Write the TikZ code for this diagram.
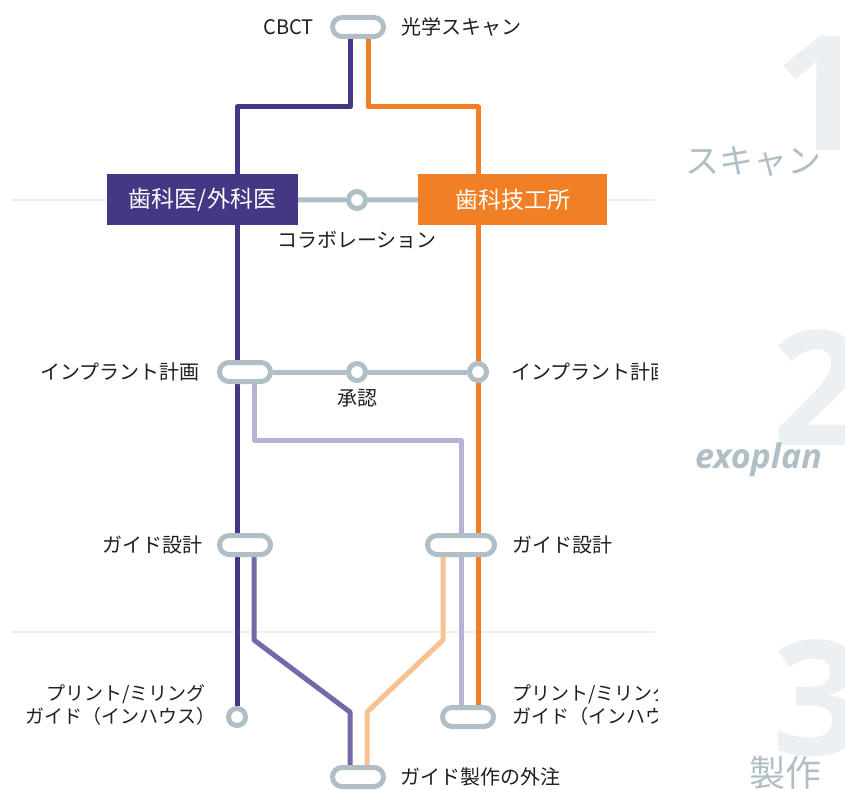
\documentclass[tikz,border=0pt]{standalone}
\usepackage{fontspec}
\newfontfamily\jpfont{Noto Sans CJK JP}
\newfontfamily\numfont{Open Sans}
\usetikzlibrary{positioning,backgrounds}
\definecolor{dentpurple}{HTML}{463784}
\definecolor{laborange}{HTML}{F07F26}
\definecolor{lilac}{HTML}{B9B1D6}
\definecolor{midpurple}{HTML}{7667A9}
\definecolor{peach}{HTML}{F8C18F}
\definecolor{stationgray}{HTML}{B0BEC5}
\definecolor{faintgray}{HTML}{EDF0F2}
\definecolor{biggray}{HTML}{EDF0F2}
\tikzset{
    pill/.style = {draw=stationgray, line width=5pt, fill=white, rounded corners=9.5pt,
        minimum width=51pt, minimum height=19pt, inner sep=0pt},
    halt/.style = {circle, draw=stationgray, line width=5pt, fill=white,
        minimum size=17pt, inner sep=0pt},
    site/.style = {rectangle, minimum width=191pt, minimum height=51pt, inner sep=0pt,
        text=white, font=\jpfont\fontsize{23}{27}\selectfont},
    lbl/.style = {inner sep=0pt, text=black!88, font=\jpfont\fontsize{20}{23}\selectfont},
    lbltwo/.style = {lbl, font=\jpfont\fontsize{19}{23}\selectfont},
    bignum/.style = {inner sep=0pt, text=biggray, font=\numfont\bfseries\fontsize{160}{160}\selectfont},
    stage/.style = {inner sep=0pt, text=stationgray, font=\jpfont\fontsize{34}{38}\selectfont},
    track/.style = {line width=5pt, line join=round},
    faint/.style = {draw=faintgray, line width=2.5pt}
}
\begin{document}
\begin{tikzpicture}[
        x = 1pt,
        y = -1pt
    ]
        \useasboundingbox (0,0) rectangle (845,789);

        % stage marks on the right
        \node[bignum, anchor=base east] (num1) at (866,150) {1};
        \node[bignum, anchor=base east] (num2) at (864,445) {2};
        \node[bignum, anchor=base east] (num3) at (864,755) {3};
        \node[stage, anchor=east] (scanstage) at (822,162) {スキャン};
        \node[stage, anchor=east, font=\numfont\bfseries\itshape\fontsize{34}{38}\selectfont]
            (exostage) at (822,460) {exoplan};
        \node[stage, anchor=east, font=\jpfont\fontsize{36}{40}\selectfont] (makestage) at (822,773) {製作};

        % stations
        \node[pill] (cbct) at (358,27) {};
        \node[site, fill=dentpurple] (dentist) at (202.5,199.5) {歯科医/外科医};
        \node[site, fill=laborange, minimum width=189pt] (lab) at (512.5,199.5) {歯科技工所};
        \node[halt] (collab) at (357,200) {};
        \node[pill] (planL) at (245,372) {};
        \node[halt] (approve) at (357,372) {};
        \node[halt] (planR) at (478,372) {};
        \node[pill] (guideL) at (245,545) {};
        \node[pill, minimum width=67pt] (guideR) at (461,545) {};
        \node[halt] (inhouseL) at (237,717) {};
        \node[pill] (inhouseR) at (468,717) {};
        \node[pill] (outsource) at (358,777) {};

        % labels
        \node[lbl, left=16pt of cbct] (cbctlbl) {CBCT};
        \node[lbl, right=15pt of cbct] (optlbl) {光学スキャン};
        \node[lbl, below=20pt of collab] (collablbl) {コラボレーション};
        \node[lbl, left=17pt of planL] (planLlbl) {インプラント計画};
        \node[lbl, below=6pt of approve] (approvelbl) {承認};
        \node[lbl, left=14pt of guideL] (guideLlbl) {ガイド設計};
        \node[lbl, right=15pt of guideR] (guideRlbl) {ガイド設計};
        \node[lbltwo, align=right, left=20pt of inhouseL, yshift=12pt] (inhouseLlbl)
            {プリント/ミリング\\ガイド（インハウス）\kern-9.5pt};
        \node[lbl, right=14pt of outsource] (outsourcelbl) {ガイド製作の外注};
        \begin{scope}
            \clip (0,0) rectangle (657,789);
            \node[lbl, right=22pt of planR] (planRlbl) {インプラント計画};
            \node[lbltwo, align=left, right=16pt of inhouseR, yshift=12pt] (inhouseRlbl)
                {プリント/ミリング\\ガイド（インハウス）};
        \end{scope}

        % lines
        \begin{pgfonlayer}{background}
            \draw[faint] (12,200) -- (655,200);
            \draw[faint] (12,632) -- (655,632);
            \draw[track, stationgray] (dentist) -- (collab) -- (lab);
            \draw[track, stationgray] (planL) -- (approve) -- (planR);
            \draw[track, dentpurple] ([xshift=-8pt]cbct.center) -- ++(0,80) -| (inhouseL);
            \draw[track, laborange] ([xshift=10pt]cbct.center) -- ++(0,80) -| ([xshift=10pt]inhouseR.center);
            \draw[track, lilac] ([xshift=9pt]planL.center) -- ++(0,68) -| ([xshift=-7pt]inhouseR.center);
            \draw[track, midpurple] ([xshift=9pt]guideL.center) -- ++(0,95) -- ++(96,72)
                -- ([xshift=-8pt]outsource.center);
            \draw[track, peach] ([xshift=-18pt]guideR.center) -- ++(0,95) -- ++(-76,72)
                -- ([xshift=9pt]outsource.center);
        \end{pgfonlayer}
    \end{tikzpicture}
\end{document}
